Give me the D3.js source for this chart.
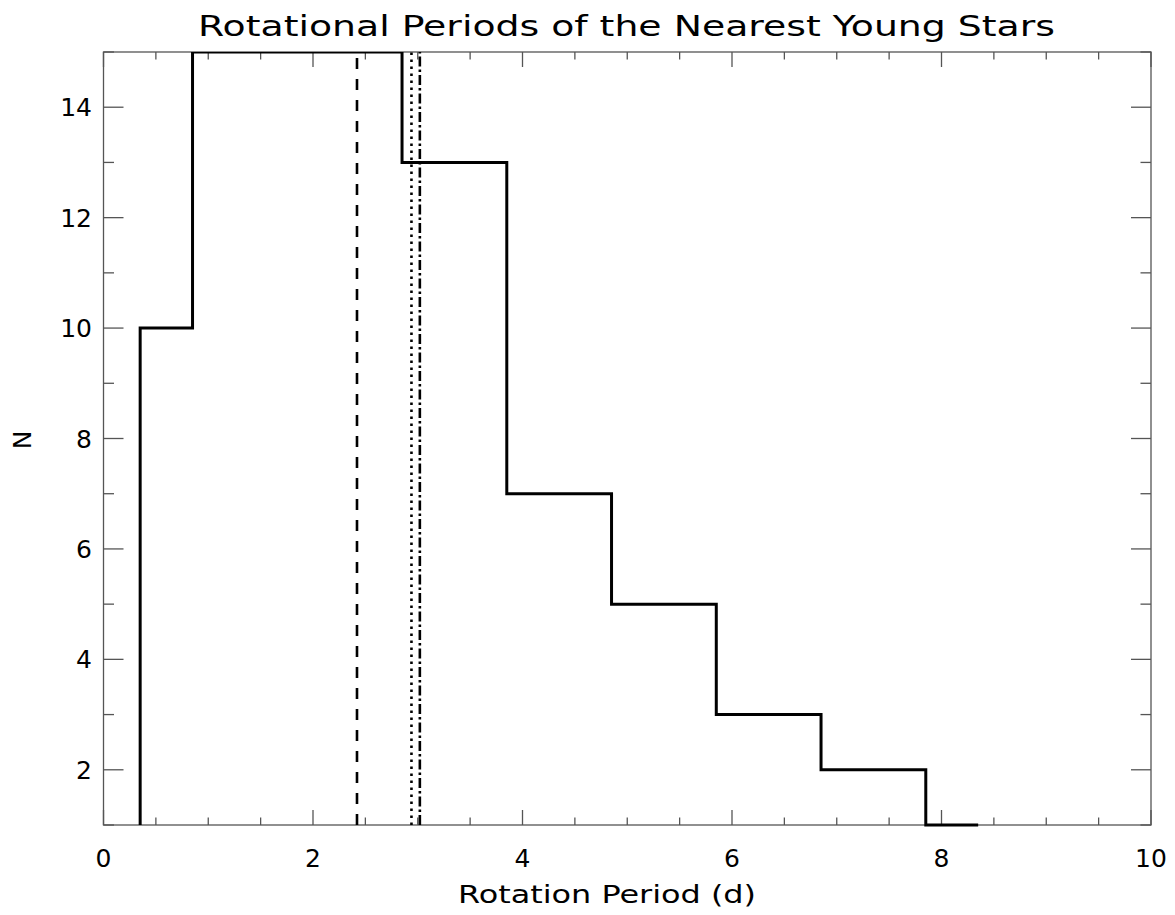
<!DOCTYPE html>
<html>
<head>
<meta charset="utf-8">
<title>Rotational Periods of the Nearest Young Stars</title>
<style>
body { margin: 0; background: #fff; }
text { font-family: "DejaVu Sans", sans-serif; fill: #000; }
</style>
</head>
<body>
<svg id="chart" width="1175" height="915"></svg>
<script src="https://cdn.jsdelivr.net/npm/d3@7"></script>
<script>
// histogram bin centres and counts (IDL psym=10 style steps)
const binCenters = [0.35, 1.35, 2.35, 3.35, 4.35, 5.35, 6.35, 7.35, 8.35];
const counts     = [10,   15,   15,   13,   7,    5,    3,    2,    1];
const binWidth = 1;

// marker lines: mean / median etc
const markerX = [2.42, 2.94, 3.02];
const markerDash = ["11,10", "2.5,4.5", "10,3,2.5,3"];

const xTicks = [0, 2, 4, 6, 8, 10];
const yTicks = [2, 4, 6, 8, 10, 12, 14];

const svg = d3.select("#chart");
const margin = {left: 103.5, right: 1151, top: 52, bottom: 825};

const x = d3.scaleLinear().domain([0, 10]).range([margin.left, margin.right]);
const y = d3.scaleLinear().domain([1, 15]).range([margin.bottom, margin.top]);

svg.append("defs").append("clipPath").attr("id", "plotclip")
  .append("rect")
    .attr("x", margin.left - 2).attr("y", margin.top)
    .attr("width", margin.right - margin.left + 4)
    .attr("height", margin.bottom - margin.top + 2);

// axes box with IDL style ticks
const axisColor = "#555";
const axisG = svg.append("g").attr("stroke", axisColor).attr("stroke-width", 1.3).attr("fill", "none");
axisG.append("rect")
  .attr("x", margin.left).attr("y", margin.top)
  .attr("width", margin.right - margin.left).attr("height", margin.bottom - margin.top);

const xMinor = d3.range(0, 10.01, 0.5);
xMinor.forEach(v => {
  const major = Math.abs(v % 2) < 1e-6;
  const len = major ? 15 : 7.5;
  axisG.append("line").attr("x1", x(v)).attr("x2", x(v)).attr("y1", margin.bottom).attr("y2", margin.bottom - len);
  axisG.append("line").attr("x1", x(v)).attr("x2", x(v)).attr("y1", margin.top).attr("y2", margin.top + len);
});
const yMinor = d3.range(1, 15.01, 1);
yMinor.forEach(v => {
  const major = v % 2 === 0;
  const len = major ? 20 : 10.5;
  axisG.append("line").attr("x1", margin.left).attr("x2", margin.left + len).attr("y1", y(v)).attr("y2", y(v));
  axisG.append("line").attr("x1", margin.right).attr("x2", margin.right - len).attr("y1", y(v)).attr("y2", y(v));
});

// tick labels
svg.append("g").selectAll("text").data(xTicks).join("text")
  .attr("x", d => x(d)).attr("y", 867)
  .attr("text-anchor", "middle").attr("font-size", 25)
  .text(d => d);
svg.append("g").selectAll("text").data(yTicks).join("text")
  .attr("x", 92).attr("y", d => y(d) + 9)
  .attr("text-anchor", "end").attr("font-size", 25)
  .text(d => d);

// titles
svg.append("text")
  .attr("x", 198).attr("y", 36)
  .attr("font-size", 29)
  .attr("textLength", 857).attr("lengthAdjust", "spacingAndGlyphs")
  .text("Rotational Periods of the Nearest Young Stars");
svg.append("text")
  .attr("x", 458).attr("y", 903)
  .attr("font-size", 24)
  .attr("textLength", 298).attr("lengthAdjust", "spacingAndGlyphs")
  .text("Rotation Period (d)");
svg.append("text")
  .attr("transform", "translate(31,440) rotate(-90)")
  .attr("text-anchor", "middle").attr("font-size", 25)
  .text("N");

// histogram steps
const plot = svg.append("g").attr("clip-path", "url(#plotclip)");
const pts = [[binCenters[0], 1]];
binCenters.forEach((c, i) => {
  const x0 = i === 0 ? c : c - binWidth / 2;
  const x1 = i === binCenters.length - 1 ? c : c + binWidth / 2;
  pts.push([x0, counts[i]]);
  pts.push([x1, counts[i]]);
});
plot.append("path")
  .datum(pts)
  .attr("fill", "none").attr("stroke", "#000").attr("stroke-width", 3)
  .attr("d", d3.line().x(d => x(d[0])).y(d => y(d[1])));

// vertical marker lines
plot.selectAll(".marker").data(markerX).join("line")
  .attr("class", "marker")
  .attr("x1", d => x(d)).attr("x2", d => x(d))
  .attr("y1", y(1)).attr("y2", y(15))
  .attr("stroke", "#000").attr("stroke-width", 2.6)
  .attr("stroke-dasharray", (d, i) => markerDash[i]);
</script>
</body>
</html>
